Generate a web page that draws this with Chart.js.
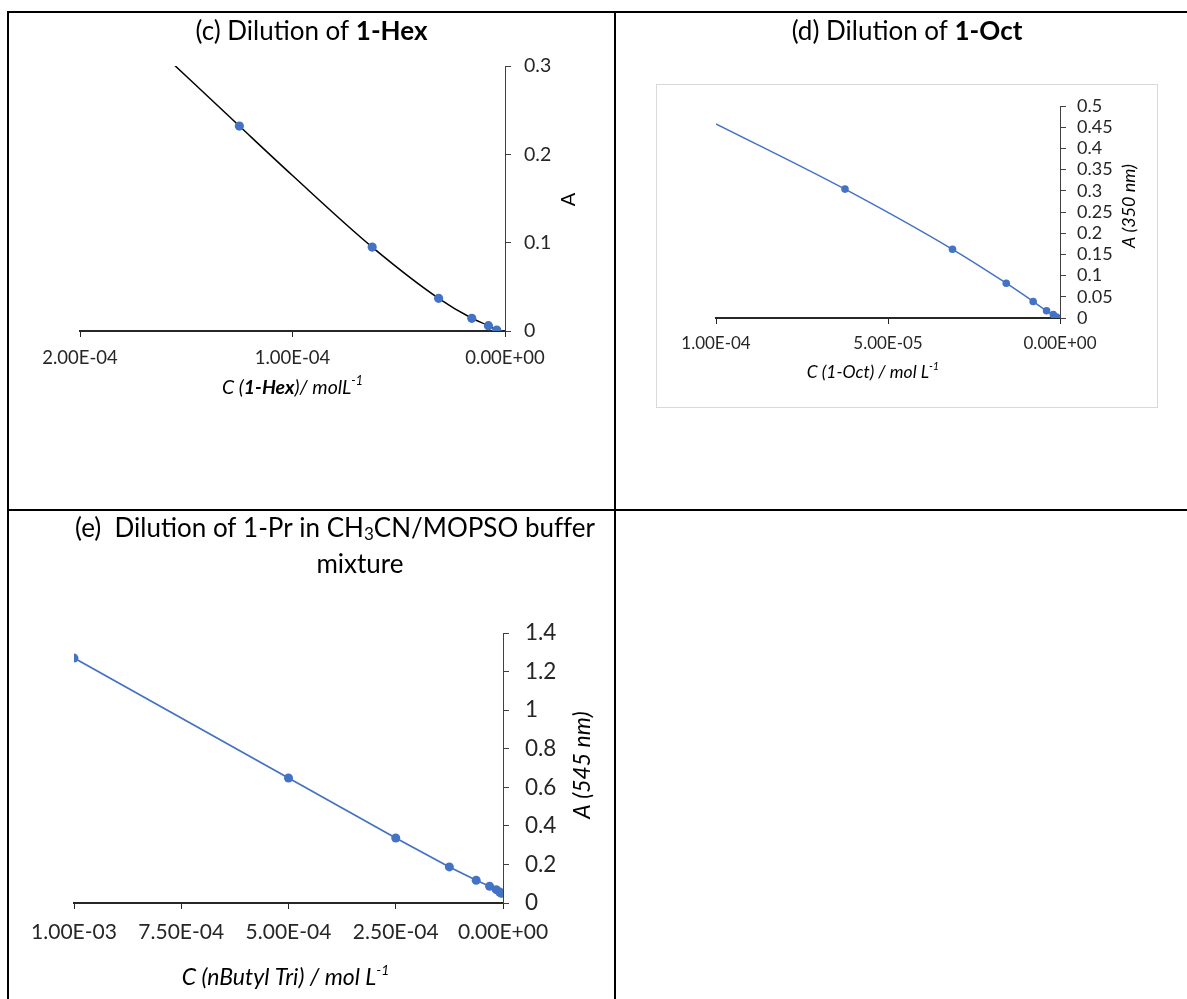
<!DOCTYPE html>
<html>
<head>
<meta charset="utf-8">
<script src="https://cdn.jsdelivr.net/npm/chart.js@4.4.1/dist/chart.umd.min.js"></script>
<style>
  body { margin: 0; background: #fff; width: 1187px; height: 999px; overflow: hidden; position: relative; }
  .rule { position: absolute; background: #000; }
  .cell { position: absolute; }
</style>
</head>
<body>
<div class="rule" style="left:7px;top:11px;width:1180px;height:2px"></div>
<div class="rule" style="left:7px;top:11px;width:2px;height:988px"></div>
<div class="rule" style="left:614px;top:11px;width:2px;height:988px"></div>
<div class="rule" style="left:7px;top:509px;width:1180px;height:2px"></div>

<div class="cell" style="left:9px;top:13px"><canvas id="hex" width="605" height="496"></canvas></div>
<div class="cell" style="left:616px;top:13px"><canvas id="oct" width="571" height="496"></canvas></div>
<div class="cell" style="left:9px;top:511px"><canvas id="but" width="605" height="488"></canvas></div>

<script>
const BLUE = '#4472C4';
const FONT = 'Lato, "Open Sans", sans-serif';
const ZW = '\u200C'; // stops the "ti" / "ff" ligatures of Lato

// (c) dilution of 1-Hex
const hexConc = [1.25e-4, 6.25e-5, 3.125e-5, 1.5625e-5, 7.8e-6, 3.9e-6];
const hexAbs = [0.232, 0.095, 0.037, 0.0144, 0.006, 0.001];
const hexFitConc = [1.6e-4, 1.25e-4, 1.0e-4, 6.25e-5, 3.125e-5, 1.5625e-5, 7.8e-6, 3.9e-6];
const hexFitAbs = [0.311, 0.232, 0.176, 0.095, 0.037, 0.0144, 0.006, 0.001];
const hexTicksX = [0, 1e-4, 2e-4];
const hexTicksY = [0, 0.1, 0.2, 0.3];

// (d) dilution of 1-Oct
const octConc = [6.25e-5, 3.125e-5, 1.5625e-5, 7.8e-6, 3.9e-6, 1.95e-6, 9.8e-7];
const octAbs = [0.304, 0.162, 0.082, 0.039, 0.017, 0.008, 0.002];
const octFitConc = [1.0e-4, 6.25e-5, 3.125e-5, 1.5625e-5, 7.8e-6, 3.9e-6, 1.95e-6, 9.8e-7];
const octFitAbs = [0.458, 0.304, 0.162, 0.082, 0.039, 0.017, 0.008, 0.002];
const octTicksX = [0, 5e-5, 1e-4];
const octTicksY = [0, 0.05, 0.1, 0.15, 0.2, 0.25, 0.3, 0.35, 0.4, 0.45, 0.5];

// (e) dilution of 1-Pr
const butConc = [1.0e-3, 5.0e-4, 2.5e-4, 1.25e-4, 6.25e-5, 3.125e-5, 1.5625e-5, 7.8e-6, 3.9e-6];
const butAbs = [1.27, 0.648, 0.337, 0.187, 0.118, 0.087, 0.069, 0.057, 0.05];
const butTicksX = [0, 2.5e-4, 5e-4, 7.5e-4, 1e-3];
const butTicksY = [0, 0.2, 0.4, 0.6, 0.8, 1, 1.2, 1.4];

function pts(xs, ys) { return xs.map((x, i) => ({ x: x, y: ys[i] })); }

// 2.00E-04 style
function sci(v) {
  if (Math.abs(v) < 1e-12) return '0.00E+00';
  let [m, e] = v.toExponential(2).split('e');
  let n = parseInt(e);
  return m + 'E' + (n < 0 ? '-' : '+') + String(Math.abs(n)).padStart(2, '0');
}
function plain(v) { return String(parseFloat(v.toFixed(3))); }

function drawRich(ctx, parts, x, y, rot) {
  ctx.save();
  ctx.translate(x, y);
  if (rot) ctx.rotate(rot);
  let total = 0;
  parts.forEach(p => { ctx.font = p.font; p.w = ctx.measureText(p.text).width; total += p.w; });
  let cx = -total / 2;
  ctx.textBaseline = 'middle';
  ctx.textAlign = 'left';
  parts.forEach(p => {
    ctx.font = p.font;
    ctx.fillStyle = p.color || '#000';
    ctx.fillText(p.text, cx, p.dy || 0);
    cx += p.w;
  });
  ctx.restore();
}

function textPlugin(items, box) {
  return {
    id: 'texts',
    beforeDraw(chart) {
      if (!box) return;
      let ctx = chart.ctx;
      ctx.save();
      ctx.strokeStyle = '#d9d9d9';
      ctx.lineWidth = 1;
      ctx.strokeRect(box[0] + 0.5, box[1] + 0.5, box[2], box[3]);
      ctx.restore();
    },
    afterDraw(chart) {
      items(chart.chartArea).forEach(it => drawRich(chart.ctx, it.parts, it.x, it.y, it.rot));
    }
  };
}

function axes(o) {
  return {
    x: {
      type: 'linear', reverse: true, min: o.xTicks[0], max: o.xTicks[o.xTicks.length - 1],
      afterBuildTicks: s => { s.ticks = o.xTicks.map(v => ({ value: v })); },
      afterFit: s => { s.height = o.xH; },
      ticks: { callback: sci, autoSkip: false, maxRotation: 0, minRotation: 0, padding: o.xPad,
               color: '#262626', font: { family: FONT, size: o.xFont } },
      grid: { drawOnChartArea: false, drawTicks: true, tickLength: 6, color: '#262626', lineWidth: 1 },
      border: { display: true, color: '#262626', width: 2 }
    },
    y: {
      type: 'linear', position: 'right', min: 0, max: o.yTicks[o.yTicks.length - 1],
      afterBuildTicks: s => { s.ticks = o.yTicks.map(v => ({ value: v })); },
      afterFit: s => { s.width = o.yW; },
      ticks: { callback: plain, autoSkip: false, padding: o.yPad,
               color: '#262626', font: { family: FONT, size: o.yFont } },
      grid: { drawOnChartArea: false, drawTicks: true, tickLength: 6, color: '#404040', lineWidth: 1 },
      border: { display: true, color: '#404040', width: 1 }
    }
  };
}

const baseOpts = {
  responsive: false, animation: false, events: [],
  plugins: { legend: { display: false }, tooltip: { enabled: false }, title: { display: false } }
};

const f = (style, size) => style + ' ' + size + 'px ' + FONT;

// (c)
new Chart(document.getElementById('hex'), {
  type: 'scatter',
  data: { datasets: [
    { data: pts(hexConc, hexAbs), backgroundColor: BLUE, pointRadius: 4.6, pointBorderWidth: 0, showLine: false },
    { data: pts(hexFitConc, hexFitAbs), showLine: true, borderColor: '#000', borderWidth: 1.5,
      pointRadius: 0, cubicInterpolationMode: 'monotone' }
  ] },
  options: Object.assign({}, baseOpts, {
    layout: { padding: { left: 71, right: 49, top: 53, bottom: 128 } },
    scales: axes({ xTicks: hexTicksX, yTicks: hexTicksY, xH: 50, yW: 60, xPad: 10, yPad: 13, xFont: 18.5, yFont: 19.5 })
  }),
  plugins: [textPlugin(a => [
    { parts: [{ text: '(c) Dilu' + ZW + 'tion of ', font: f('400', 26) }, { text: '1-Hex', font: f('700', 26) }], x: 302.5, y: 19 },
    { parts: [{ text: 'C (', font: f('italic 400', 19.5) }, { text: '1-Hex', font: f('italic 700', 19.5) },
              { text: ')/ molL', font: f('italic 400', 19.5) }, { text: '-1', font: f('italic 400', 12.5), dy: -7 }],
      x: (a.left + a.right) / 2, y: a.bottom + 57 },
    { parts: [{ text: 'A', font: f('400', 20) }], x: a.right + 64, y: (a.top + a.bottom) / 2 + 1, rot: -Math.PI / 2 }
  ])]
});

// (d)
new Chart(document.getElementById('oct'), {
  type: 'scatter',
  data: { datasets: [
    { data: pts(octConc, octAbs), backgroundColor: BLUE, pointRadius: 3.8, pointBorderWidth: 0, showLine: false },
    { data: pts(octFitConc, octFitAbs), showLine: true, borderColor: BLUE, borderWidth: 1.5,
      pointRadius: 0, cubicInterpolationMode: 'monotone' }
  ] },
  options: Object.assign({}, baseOpts, {
    layout: { padding: { left: 100, right: 67, top: 93, bottom: 151 } },
    scales: axes({ xTicks: octTicksX, yTicks: octTicksY, xH: 40, yW: 60, xPad: 9, yPad: 11, xFont: 17, yFont: 18 })
  }),
  plugins: [textPlugin(a => [
    { parts: [{ text: '(d) Dilu' + ZW + 'tion of ', font: f('400', 26) }, { text: '1-Oct', font: f('700', 26) }], x: 291, y: 19 },
    { parts: [{ text: 'C (1-Oct) / mol L', font: f('italic 400', 17.5) }, { text: '-1', font: f('italic 400', 11), dy: -6 }],
      x: (a.left + a.right) / 2 - 15, y: a.bottom + 54 },
    { parts: [{ text: 'A (350 nm)', font: f('italic 400', 18) }], x: a.right + 69, y: (a.top + a.bottom) / 2 - 6, rot: -Math.PI / 2 }
  ], [40, 71, 501, 323])]
});

// (e)
new Chart(document.getElementById('but'), {
  type: 'scatter',
  data: { datasets: [
    { data: pts(butConc, butAbs), showLine: true, borderColor: BLUE, borderWidth: 1.75,
      backgroundColor: BLUE, pointRadius: 4.5, pointBorderWidth: 0 }
  ] },
  options: Object.assign({}, baseOpts, {
    layout: { padding: { left: 65, right: 51, top: 122, bottom: 46 } },
    scales: axes({ xTicks: butTicksX, yTicks: butTicksY, xH: 50, yW: 60, xPad: 11, yPad: 16, xFont: 21, yFont: 22.5 })
  }),
  plugins: [textPlugin(a => [
    { parts: [{ text: '(e)  Dilu' + ZW + 'tion of 1-Pr in CH', font: f('400', 26) }, { text: '3', font: f('400', 17), dy: 6 },
              { text: 'CN/MOPSO buf' + ZW + 'fer', font: f('400', 26) }], x: 326, y: 18 },
    { parts: [{ text: 'mixture', font: f('400', 26) }], x: 351, y: 54 },
    { parts: [{ text: 'C (nButyl Tri) / mol L', font: f('italic 400', 23) }, { text: '-1', font: f('italic 400', 14), dy: -8 }],
      x: (a.left + a.right) / 2 - 3, y: a.bottom + 75 },
    { parts: [{ text: 'A (545 nm)', font: f('italic 400', 23) }], x: a.right + 80, y: (a.top + a.bottom) / 2 - 3, rot: -Math.PI / 2 }
  ])]
});
</script>
</body>
</html>
